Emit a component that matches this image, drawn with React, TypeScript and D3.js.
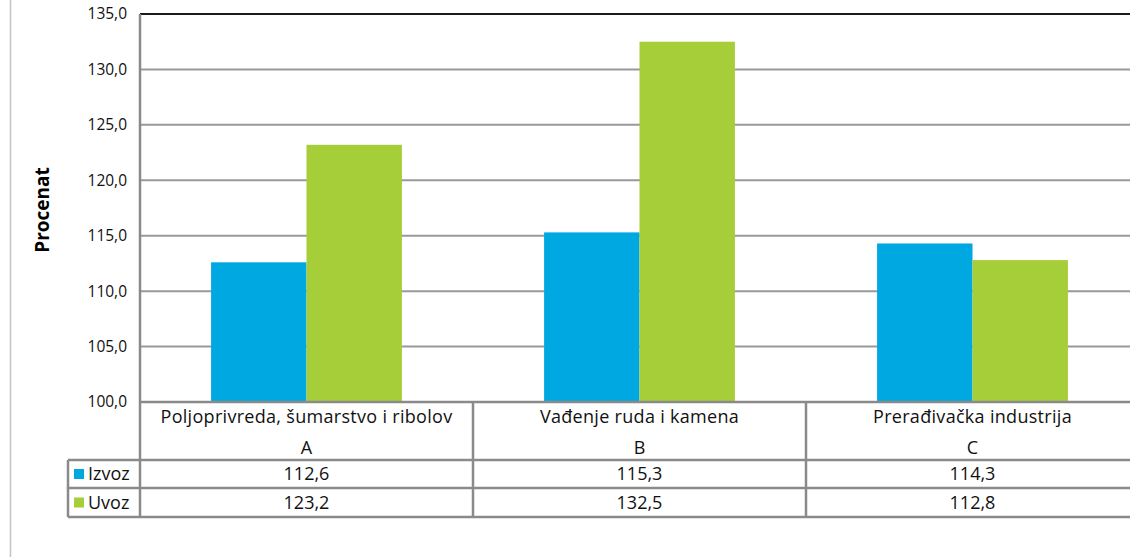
import React from "react";
import * as d3 from "d3";

const categories = ["Poljoprivreda, šumarstvo i ribolov", "Vađenje ruda i kamena", "Prerađivačka industrija"];
const codes = ["A", "B", "C"];
const seriesNames = ["Izvoz", "Uvoz"];
const izvoz = [112.6, 115.3, 114.3];
const uvoz = [123.2, 132.5, 112.8];
const yTicks = [100, 105, 110, 115, 120, 125, 130, 135];

const colors = ["#00a8e1", "#a6ce39"];
const FONT = "'Open Sans', 'Noto Sans', sans-serif";

export default function App() {
  const W = 1130;
  const H = 557;
  const left = 140;
  const colW = 333;
  const top = 14;
  const bottom = 402;

  const x = d3.scaleBand<number>().domain(d3.range(categories.length)).range([left, left + colW * 3]);
  const inner = d3
    .scaleBand<string>()
    .domain(seriesNames)
    .range([0, x.bandwidth()])
    .paddingOuter(0.745)
    .paddingInner(0);
  const y = d3.scaleLinear().domain([100, 135]).range([bottom, top]);
  const fmt = (v: number) => v.toFixed(1).replace(".", ",");

  const series = [izvoz, uvoz];
  const rowHeader = [bottom, 460];
  const rowIz = [460, 488];
  const rowUv = [488, 517];
  const legendLeft = 68;
  const lineColor = "#8a8a8a";
  const tableFont = 18;

  return (
    <svg width={W} height={H} style={{ position: "absolute", left: 0, top: 0, background: "#fff" }} fontFamily={FONT}>
      <line x1={10.5} x2={10.5} y1={0} y2={H} stroke="#c4c4c4" strokeWidth={1.5} />

      {/* gridlines */}
      {yTicks.slice(1).map((t) => (
        <line
          key={t}
          x1={left}
          x2={W}
          y1={y(t)}
          y2={y(t)}
          stroke={t === 135 ? "#1a1a1a" : "#999"}
          strokeWidth={2}
        />
      ))}

      {/* y tick labels */}
      {yTicks.map((t) => (
        <text key={t} x={127} y={y(t)} dy="0.35em" textAnchor="end" fontSize={15.5} fill="#111">
          {fmt(t)}
        </text>
      ))}

      <text
        transform={`translate(49,${(top + bottom) / 2 + 2}) rotate(-90)`}
        textAnchor="middle"
        fontSize={19}
        fontWeight="bold"
        fill="#000"
      >
        Procenat
      </text>

      {/* bars */}
      {categories.map((_, i) =>
        seriesNames.map((s, j) => {
          const v = series[j][i];
          return (
            <rect
              key={`${i}-${s}`}
              x={(x(i) as number) + (inner(s) as number)}
              y={y(v)}
              width={inner.bandwidth()}
              height={bottom - y(v)}
              fill={colors[j]}
            />
          );
        })
      )}

      {/* data table */}
      <g stroke={lineColor} strokeWidth={2.5} fill="none">
        <line x1={left} x2={W} y1={bottom} y2={bottom} />
        <line x1={legendLeft} x2={W} y1={rowIz[0]} y2={rowIz[0]} />
        <line x1={legendLeft} x2={W} y1={rowUv[0]} y2={rowUv[0]} />
        <line x1={legendLeft} x2={W} y1={rowUv[1]} y2={rowUv[1]} />
        <line x1={legendLeft} x2={legendLeft} y1={rowIz[0]} y2={rowUv[1]} />
        <line x1={left} x2={left} y1={top} y2={rowUv[1]} />
        {categories.map((_, i) => (
          <line key={i} x1={(x(i) as number) + colW} x2={(x(i) as number) + colW} y1={bottom} y2={rowUv[1]} />
        ))}
      </g>

      {categories.map((c, i) => {
        const cx = (x(i) as number) + x.bandwidth() / 2;
        return (
          <g key={c} fontSize={tableFont} fill="#111" textAnchor="middle">
            <text x={cx} y={rowHeader[0] + 15} dy="0.35em" letterSpacing={0.3}>{c}</text>
            <text x={cx} y={rowHeader[0] + 46} dy="0.35em">{codes[i]}</text>
            <text x={cx} y={(rowIz[0] + rowIz[1]) / 2} dy="0.35em">{fmt(izvoz[i])}</text>
            <text x={cx} y={(rowUv[0] + rowUv[1]) / 2} dy="0.35em">{fmt(uvoz[i])}</text>
          </g>
        );
      })}

      {seriesNames.map((s, j) => {
        const row = j === 0 ? rowIz : rowUv;
        const cy = (row[0] + row[1]) / 2;
        return (
          <g key={s}>
            <rect x={74} y={cy - 5} width={10} height={10} fill={colors[j]} />
            <text x={88} y={cy} dy="0.35em" fontSize={tableFont} fill="#111">{s}</text>
          </g>
        );
      })}
    </svg>
  );
}
